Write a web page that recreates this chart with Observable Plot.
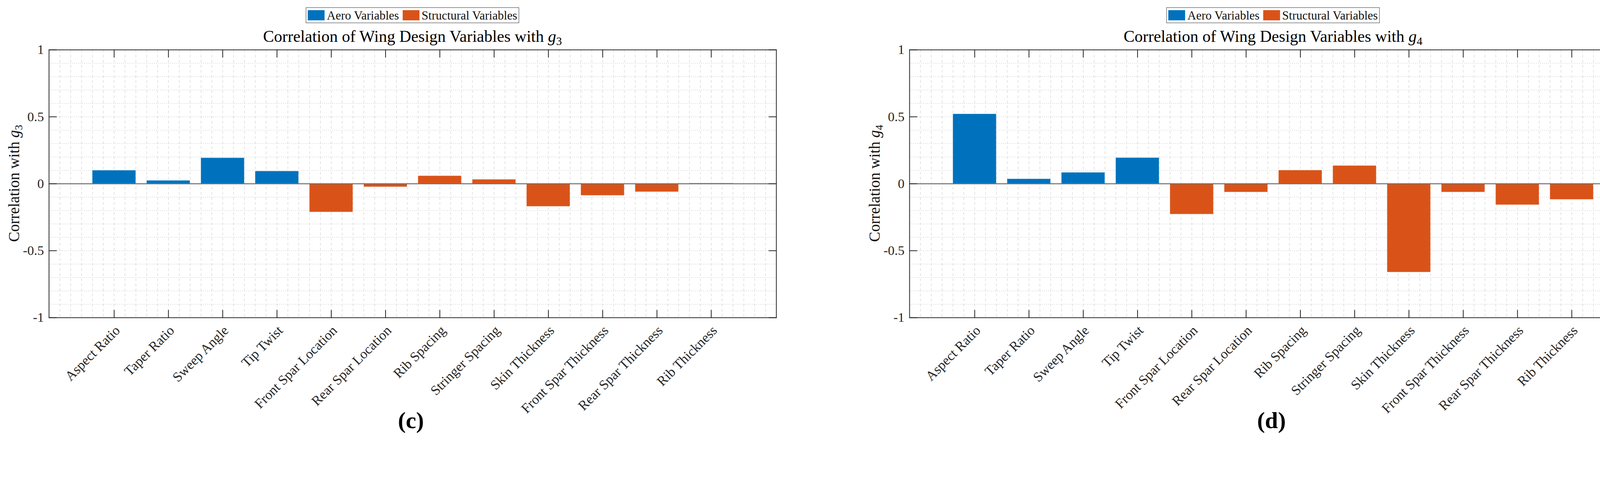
<!DOCTYPE html>
<html>
<head>
<meta charset="utf-8">
<script src="https://cdn.jsdelivr.net/npm/d3@7"></script>
<script src="https://cdn.jsdelivr.net/npm/@observablehq/plot@0.6"></script>
<style>
  body { margin: 0; background: #fff; }
  #root { position: relative; width: 4206px; height: 1220px; background: #fff; font-family: "Liberation Serif", serif; color: #111; overflow: hidden; }
  .panel { position: absolute; top: 0; width: 2003px; height: 1220px; }
  .legend { position: absolute; top: 19px; height: 40px; box-sizing: border-box; border: 1.5px solid #333; background: #fff;
            display: flex; align-items: center; padding: 0 4px; font-size: 31px; line-height: 1; transform: translateX(-50%); white-space: nowrap; }
  .legend .sw { width: 43px; height: 26px; display: inline-block; margin-right: 6px; }
  .legend .lab { margin-right: 9px; }
  .legend .lab:last-child { margin-right: 0; }
  .title { position: absolute; top: 72px; font-size: 42px; line-height: 1; transform: translateX(-50%); white-space: nowrap; color: #000; z-index: 2; }
  .ylab { position: absolute; font-size: 39px; line-height: 1; white-space: nowrap; transform: translate(-50%, -50%) rotate(-90deg); color: #111; }
  .sub { font-size: 70%; position: relative; top: 0.28em; }
  .cap { position: absolute; top: 1045px; font-size: 60px; font-weight: bold; line-height: 1; transform: translateX(-50%); color: #000; }
  .plotbox { position: absolute; left: 0; top: 110px; }
  .plotbox svg { overflow: visible; background: transparent; }
</style>
</head>
<body>
<div id="root"></div>
<script>
// ---- data ----
const categories = ["Aspect Ratio", "Taper Ratio", "Sweep Angle", "Tip Twist", "Front Spar Location", "Rear Spar Location",
  "Rib Spacing", "Stringer Spacing", "Skin Thickness", "Front Spar Thickness", "Rear Spar Thickness", "Rib Thickness"];
const groups = ["Aero Variables", "Aero Variables", "Aero Variables", "Aero Variables",
  "Structural Variables", "Structural Variables", "Structural Variables", "Structural Variables",
  "Structural Variables", "Structural Variables", "Structural Variables", "Structural Variables"];
const corrG3 = [0.100, 0.024, 0.193, 0.094, -0.212, -0.024, 0.059, 0.032, -0.170, -0.088, -0.061, 0.004];
const corrG4 = [0.521, 0.036, 0.084, 0.194, -0.228, -0.063, 0.101, 0.135, -0.661, -0.063, -0.158, -0.118];
const groupNames = ["Aero Variables", "Structural Variables"];
const groupColors = ["#0072BD", "#D95319"];
const yTicks = [-1, -0.5, 0, 0.5, 1];
const yTickLabels = ["-1", "-0.5", "0", "0.5", "1"];
const panelsInfo = [
  {values: corrG3, sub: "3", letter: "c", left: 0},
  {values: corrG4, sub: "4", letter: "d", left: 2203}
];

// ---- drawing ----
const XMIN = -0.2, XMAX = 13.2;
const ink = "#262626";
const shapeUp = {draw(ctx, l) { ctx.moveTo(0, 0); ctx.lineTo(0, -l); }};
const shapeDown = {draw(ctx, l) { ctx.moveTo(0, 0); ctx.lineTo(0, l); }};
const shapeRight = {draw(ctx, l) { ctx.moveTo(0, 0); ctx.lineTo(l, 0); }};
const shapeLeft = {draw(ctx, l) { ctx.moveTo(0, 0); ctx.lineTo(-l, 0); }};

function makePlot(values) {
  const rows = categories.map((c, i) => ({pos: i + 1, cat: c, group: groups[i], value: values[i]}));
  const pos = rows.map(d => d.pos);
  const gridXs = d3.range(0, XMAX + 1e-9, 0.2);
  const gridYs = d3.range(-9, 10).map(k => k / 10);
  return Plot.plot({
    width: 2003, height: 960,
    marginLeft: 125, marginRight: 16, marginTop: 17, marginBottom: 258,
    x: {type: "linear", domain: [XMIN, XMAX], axis: null},
    y: {domain: [-1, 1], axis: null},
    color: {domain: groupNames, range: groupColors},
    style: {fontFamily: "Liberation Serif", fontSize: "34px", color: ink, background: "transparent", overflow: "visible"},
    marks: [
      Plot.ruleX(gridXs, {x: d => d, stroke: "#d6d6d6", strokeWidth: 1.3, strokeDasharray: "7,6"}),
      Plot.ruleY(gridYs, {y: d => d, stroke: "#d0d0d0", strokeWidth: 1.5, strokeDasharray: "2,3"}),
      Plot.rectY(rows, {x1: d => d.pos - 0.4, x2: d => d.pos + 0.4, y1: 0, y2: "value", fill: "group",
        stroke: "#ffffff", strokeOpacity: 0.35, strokeWidth: 1.5}),
      Plot.ruleY([0], {stroke: "#6e6e6e", strokeWidth: 2.5}),
      Plot.vector(pos, {x: d => d, y: -1, length: 19, anchor: "start", shape: shapeUp, stroke: ink, strokeWidth: 2}),
      Plot.vector(pos, {x: d => d, y: 1, length: 19, anchor: "start", shape: shapeDown, stroke: ink, strokeWidth: 2}),
      Plot.vector(yTicks, {x: XMIN, y: d => d, length: 19, anchor: "start", shape: shapeRight, stroke: ink, strokeWidth: 2}),
      Plot.vector(yTicks, {x: XMAX, y: d => d, length: 19, anchor: "start", shape: shapeLeft, stroke: ink, strokeWidth: 2}),
      Plot.frame({stroke: ink, strokeWidth: 2}),
      Plot.text(yTicks, {x: XMIN, y: d => d, text: (d, i) => yTickLabels[i], textAnchor: "end", dx: -13, fill: ink, fontSize: 34}),
      Plot.text(rows, {x: "pos", frameAnchor: "bottom", text: "cat", rotate: -45, textAnchor: "end", lineAnchor: "middle",
        dx: 9, dy: 27, fill: ink, fontSize: 35})
    ]
  });
}

const root = document.getElementById("root");
for (const p of panelsInfo) {
  const panel = document.createElement("div");
  panel.className = "panel";
  panel.style.left = p.left + "px";
  const cx = 125 + (1987 - 125) / 2;

  const box = document.createElement("div");
  box.className = "plotbox";
  box.appendChild(makePlot(p.values));
  panel.appendChild(box);

  const legend = document.createElement("div");
  legend.className = "legend";
  legend.style.left = cx + "px";
  legend.innerHTML = groupNames.map((g, i) =>
    `<span class="sw" style="background:${groupColors[i]}"></span><span class="lab">${g}</span>`).join("");
  panel.appendChild(legend);

  const title = document.createElement("div");
  title.className = "title";
  title.style.left = cx + "px";
  title.innerHTML = `Correlation of Wing Design Variables with <i>g</i><span class="sub">${p.sub}</span>`;
  panel.appendChild(title);

  const ylab = document.createElement("div");
  ylab.className = "ylab";
  ylab.style.left = "35px";
  ylab.style.top = "469px";
  ylab.innerHTML = `Correlation with <i>g</i><span class="sub">${p.sub}</span>`;
  panel.appendChild(ylab);

  const cap = document.createElement("div");
  cap.className = "cap";
  cap.style.left = (cx - 4) + "px";
  cap.innerHTML = `(${p.letter})`;
  panel.appendChild(cap);

  root.appendChild(panel);
}
</script>
</body>
</html>
